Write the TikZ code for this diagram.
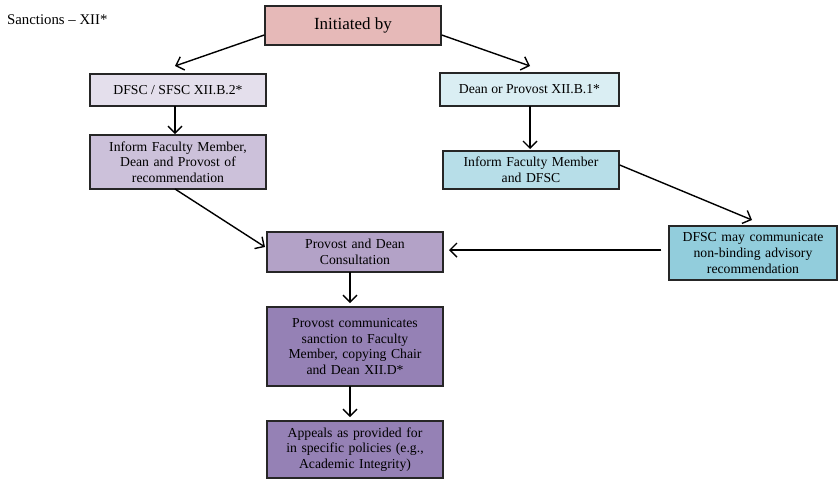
\documentclass[tikz,border=0pt]{standalone}
\usepackage{fontspec}
\setmainfont{Liberation Serif}
\usetikzlibrary{arrows.meta}
\definecolor{cInit}{HTML}{E6B9B8}
\definecolor{cPA}{HTML}{E4DFEC}
\definecolor{cPB}{HTML}{CCC1DA}
\definecolor{cPC}{HTML}{B3A2C7}
\definecolor{cPD}{HTML}{9581B5}
\definecolor{cBA}{HTML}{DAEEF3}
\definecolor{cBB}{HTML}{B7DEE8}
\definecolor{cBC}{HTML}{92CDDC}
\tikzset{
  box/.style={draw=black!85, line width=1.4pt, inner sep=0pt, align=center,
    font=\fontsize{13.7}{15.6}\selectfont},
  conn/.style={line width=1.4pt, -{Straight Barb[length=7pt,width=14pt,line width=1.4pt]}}
}
\begin{document}
\begin{tikzpicture}[x=1pt,y=-1pt]
\useasboundingbox (0,0) rectangle (838,480);
\node[anchor=west, inner sep=0pt, font=\fontsize{14.8}{17}\selectfont] (title) at (7,20) {Sanctions – XII*};
\node[box, fill=cInit, minimum width=176pt, minimum height=39pt, font=\fontsize{17}{19}\selectfont] (init) at (353,25.5) {Initiated by};
\node[box, fill=cPA, minimum width=176pt, minimum height=32pt] (dfsc) at (178,90) {DFSC / SFSC XII.B.2*};
\node[box, fill=cPB, minimum width=176pt, minimum height=54pt, text width=170pt] (infA) at (178,162) {Inform Faculty Member,\\Dean and Provost of\\recommendation};
\node[box, fill=cBA, minimum width=179pt, minimum height=33pt] (dean) at (529.5,89.5) {Dean or Provost XII.B.1*};
\node[box, fill=cBB, minimum width=176pt, minimum height=38pt, text width=170pt] (infB) at (531,170) {Inform Faculty Member\\and DFSC};
\node[box, fill=cBC, minimum width=168pt, minimum height=54pt, text width=166pt] (may) at (753,253) {DFSC may communicate\\non-binding advisory\\recommendation};
\node[box, fill=cPC, minimum width=176pt, minimum height=40pt, text width=170pt] (cons) at (355,252) {Provost and Dean\\Consultation};
\node[box, fill=cPD, minimum width=176pt, minimum height=79pt, text width=170pt] (comm) at (355,346.5) {Provost communicates\\sanction to Faculty\\Member, copying Chair\\and Dean XII.D*};
\node[box, fill=cPD, minimum width=176pt, minimum height=57pt, text width=170pt] (app) at (355,449.5) {Appeals as provided for\\in specific policies (e.g.,\\Academic Integrity)};
\draw[conn] (init.west |- 0,35) -- (175,66);
\draw[conn] (init.east |- 0,35) -- (530,66);
\draw[conn] (175,106) -- (175,134);
\draw[conn] (530,106) -- (530,149);
\draw[conn] (infB.east |- 0,165) -- (752,220);
\draw[conn] (may.west |- 0,250) ++(-7,0) -- (449,250);
\draw[conn] (175,189) -- (265,247);
\draw[conn] (350,272) -- (350,303);
\draw[conn] (350,386) -- (350,417);
\end{tikzpicture}
\end{document}
